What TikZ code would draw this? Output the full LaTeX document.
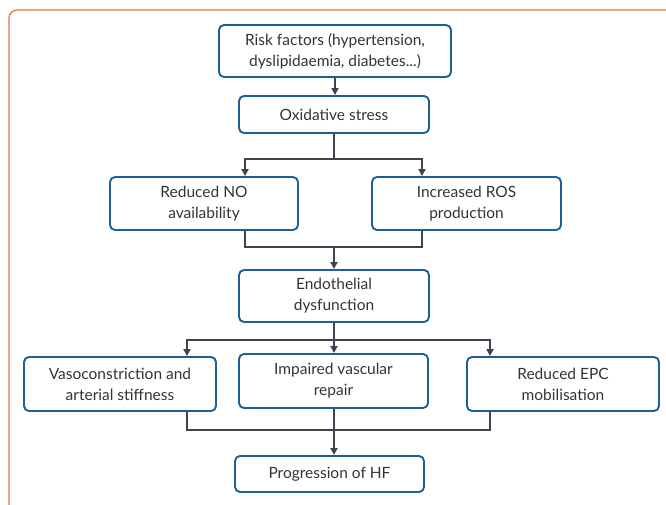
\documentclass[tikz,border=0pt]{standalone}
\usepackage{fontspec}
\setmainfont{Lato}
\usepackage{xcolor}
\usetikzlibrary{positioning,calc,arrows.meta}
\definecolor{boxblue}{HTML}{1F5F99}
\definecolor{linegray}{HTML}{3D4450}
\definecolor{frameorange}{HTML}{E5753A}
\definecolor{textgray}{HTML}{333333}

\begin{document}
\begin{tikzpicture}[x=1pt, y=-1pt,
        box/.style={draw=boxblue, line width=1.9pt, rounded corners=5pt, align=center,
            text=textgray, font=\fontsize{15.5}{21}\selectfont, inner sep=0pt},
        link/.style={draw=linegray, line width=2.6pt},
        arr/.style={link, -{Triangle[length=7pt,width=7pt]}}]
        \useasboundingbox (0,0) rectangle (666,505);
        \draw[frameorange, line width=1.3pt, rounded corners=8pt] (9,10) rectangle (720,540);

        \node[box, minimum width=232pt, minimum height=52pt] at (335, 51) (risk) {Risk factors (hypertension,\\dyslipidaemia, diabetes...)};
        \node[box, minimum width=190pt, minimum height=37pt] at (334, 114.5) (ox) {Oxidative stress};
        \node[box, minimum width=188pt, minimum height=53pt] at (204, 203.5) (no) {Reduced NO\\availability};
        \node[box, minimum width=189pt, minimum height=53pt] at (466.5, 203.5) (ros) {Increased ROS\\production};
        \node[box, minimum width=190pt, minimum height=52pt] at (334, 296) (endo) {Endothelial\\dysfunction};
        \node[box, minimum width=192pt, minimum height=54pt] at (120, 384) (vaso) {Vasoconstriction and\\arterial stiffness};
        \node[box, minimum width=189pt, minimum height=54pt] at (333.5, 381) (rep) {Impaired vascular\\repair};
        \node[box, minimum width=192pt, minimum height=54pt] at (563, 384) (epc) {Reduced EPC\\mobilisation};
        \node[box, minimum width=189pt, minimum height=36pt] at (329.5, 474) (hf) {Progression of HF};

        \coordinate (split1) at (334, 159);
        \coordinate (join1) at (334, 247);
        \coordinate (split2) at (334, 340);
        \coordinate (join2) at (334, 430);

        \draw[arr] (risk.south) -- (risk.south |- ox.north);
        \draw[link] (ox.south) -- (split1);
        \draw[arr] (split1) -| ([xshift=41pt]no.north);
        \draw[arr] (split1) -| ([xshift=-44.5pt]ros.north);
        \draw[link] ([xshift=41pt]no.south) |- (join1);
        \draw[link] ([xshift=-44.5pt]ros.south) |- (join1);
        \draw[arr] (join1) -- (join1 |- endo.north);
        \draw[link] (endo.south) -- (split2);
        \draw[arr] (split2) -| ([xshift=67pt]vaso.north);
        \draw[arr] (split2) -- (split2 |- rep.north);
        \draw[arr] (split2) -| ([xshift=-73pt]epc.north);
        \draw[link] ([xshift=67pt]vaso.south) |- (join2);
        \draw[link] ([xshift=-73pt]epc.south) |- (join2);
        \draw[link] (split2 |- rep.south) -- (join2);
        \draw[arr] (join2) -- (join2 |- hf.north);
\end{tikzpicture}
\end{document}
